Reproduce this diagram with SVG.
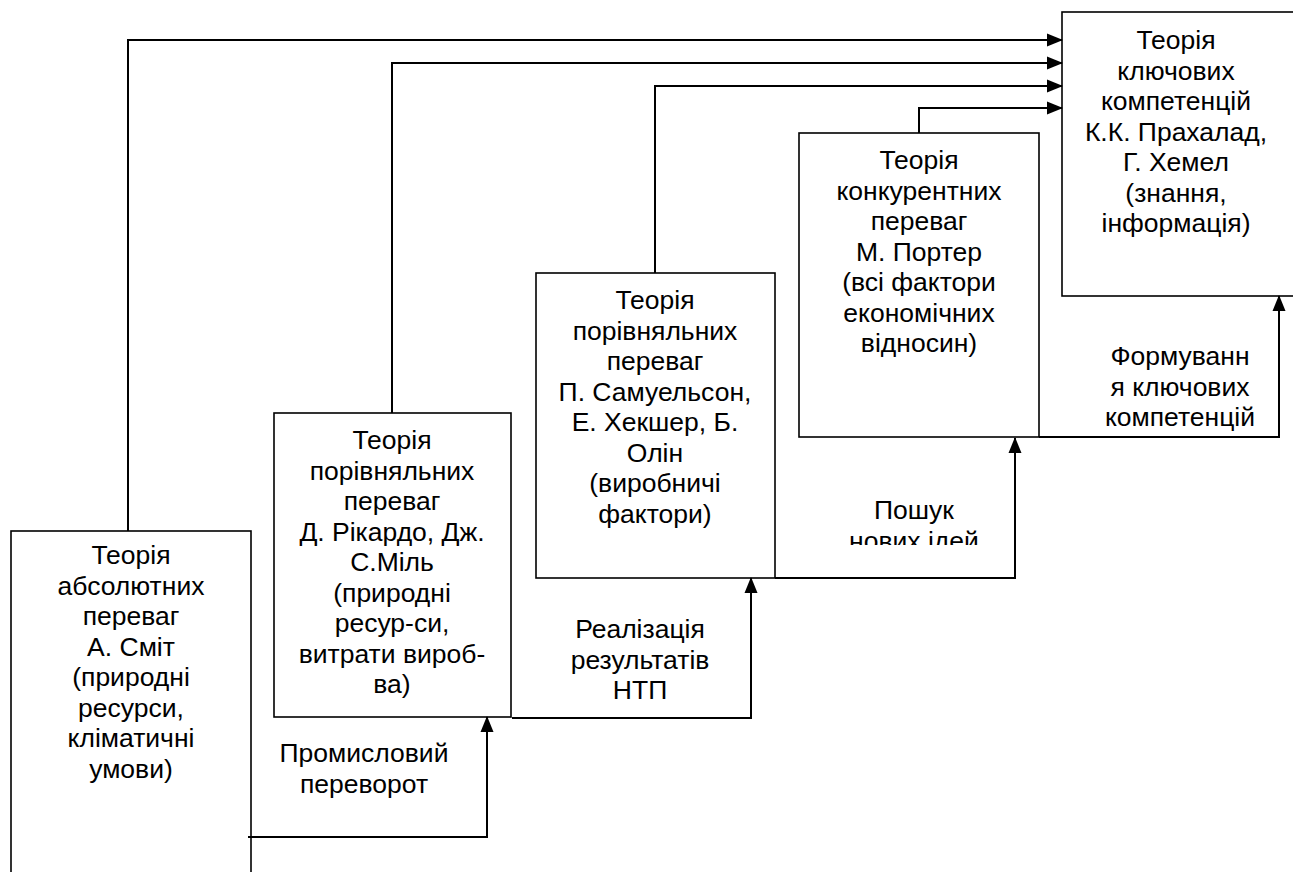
<svg xmlns="http://www.w3.org/2000/svg" width="1293" height="872" viewBox="0 0 1293 872">
<style>
.box{fill:none;stroke:#000;stroke-width:1.6}
.con{fill:none;stroke:#000;stroke-width:2}
text{font-family:"Liberation Sans",Arial,sans-serif;font-size:26.5px;fill:#000;text-anchor:middle}
</style>
<defs>
<marker id="arr" markerUnits="userSpaceOnUse" markerWidth="16" markerHeight="14" refX="15" refY="7" orient="auto">
<path d="M0,0.5 L16,7 L0,13.5 Z" fill="#000"/>
</marker>
<clipPath id="clipIdeas"><rect x="800" y="480" width="220" height="65"/></clipPath>
</defs>
<rect width="1293" height="872" fill="#fff"/>
<g id="connectors">
<polyline class="con" points="128,531 128,40 1062,40" marker-end="url(#arr)"/>
<polyline class="con" points="392,413 392,63 1062,63" marker-end="url(#arr)"/>
<polyline class="con" points="655,273 655,86 1062,86" marker-end="url(#arr)"/>
<polyline class="con" points="919,133 919,108 1062,108" marker-end="url(#arr)"/>
<polyline class="con" points="248,837 487,837 487,717" marker-end="url(#arr)"/>
<polyline class="con" points="512,718 751,718 751,578" marker-end="url(#arr)"/>
<polyline class="con" points="775,578 1015,578 1015,438" marker-end="url(#arr)"/>
<polyline class="con" points="1039,437 1279,437 1279,296" marker-end="url(#arr)"/>
</g>
<g id="node-smith">
<rect class="box" x="11" y="531" width="240" height="360"/>
<text><tspan x="131" y="564">Теорія</tspan><tspan x="131" y="594.5">абсолютних</tspan><tspan x="131" y="625">переваг</tspan><tspan x="131" y="655.5">А. Сміт</tspan><tspan x="131" y="686">(природні</tspan><tspan x="131" y="716.5">ресурси,</tspan><tspan x="131" y="747">кліматичні</tspan><tspan x="131" y="777.5">умови)</tspan></text>
</g>
<g id="node-ricardo">
<rect class="box" x="274" y="413" width="237" height="304"/>
<text><tspan x="392" y="449">Теорія</tspan><tspan x="392" y="479.5">порівняльних</tspan><tspan x="392" y="510">переваг</tspan><tspan x="392" y="540.5">Д. Рікардо, Дж.</tspan><tspan x="392" y="571">С.Міль</tspan><tspan x="392" y="601.5">(природні</tspan><tspan x="392" y="632">ресур-си,</tspan><tspan x="392" y="662.5">витрати вироб-</tspan><tspan x="392" y="693">ва)</tspan></text>
</g>
<g id="node-samuelson">
<rect class="box" x="536" y="273" width="239" height="305"/>
<text><tspan x="655" y="309">Теорія</tspan><tspan x="655" y="339.5">порівняльних</tspan><tspan x="655" y="370">переваг</tspan><tspan x="655" y="400.5">П. Самуельсон,</tspan><tspan x="655" y="431">Е. Хекшер, Б.</tspan><tspan x="655" y="461.5">Олін</tspan><tspan x="655" y="492">(виробничі</tspan><tspan x="655" y="522.5">фактори)</tspan></text>
</g>
<g id="node-porter">
<rect class="box" x="799" y="133" width="240" height="304"/>
<text><tspan x="919" y="169">Теорія</tspan><tspan x="919" y="199.5">конкурентних</tspan><tspan x="919" y="230">переваг</tspan><tspan x="919" y="260.5">М. Портер</tspan><tspan x="919" y="291">(всі фактори</tspan><tspan x="919" y="321.5">економічних</tspan><tspan x="919" y="352">відносин)</tspan></text>
</g>
<g id="node-prahalad">
<rect class="box" x="1062" y="12" width="240" height="284"/>
<text><tspan x="1176" y="49">Теорія</tspan><tspan x="1176" y="79.5">ключових</tspan><tspan x="1176" y="110">компетенцій</tspan><tspan x="1176" y="140.5">К.К. Прахалад,</tspan><tspan x="1176" y="171">Г. Хемел</tspan><tspan x="1176" y="201.5">(знання,</tspan><tspan x="1176" y="232">інформація)</tspan></text>
</g>
<g id="labels">
<text><tspan x="364" y="762">Промисловий</tspan><tspan x="364" y="792.5">переворот</tspan></text>
<text><tspan x="640" y="638">Реалізація</tspan><tspan x="640" y="668.5">результатів</tspan><tspan x="640" y="699">НТП</tspan></text>
<text><tspan x="914" y="519">Пошук</tspan></text>
<text clip-path="url(#clipIdeas)"><tspan x="914" y="549.5">нових ідей</tspan></text>
<text><tspan x="1180" y="365">Формуванн</tspan><tspan x="1180" y="395.5">я ключових</tspan><tspan x="1180" y="426">компетенцій</tspan></text>
</g>
</svg>
